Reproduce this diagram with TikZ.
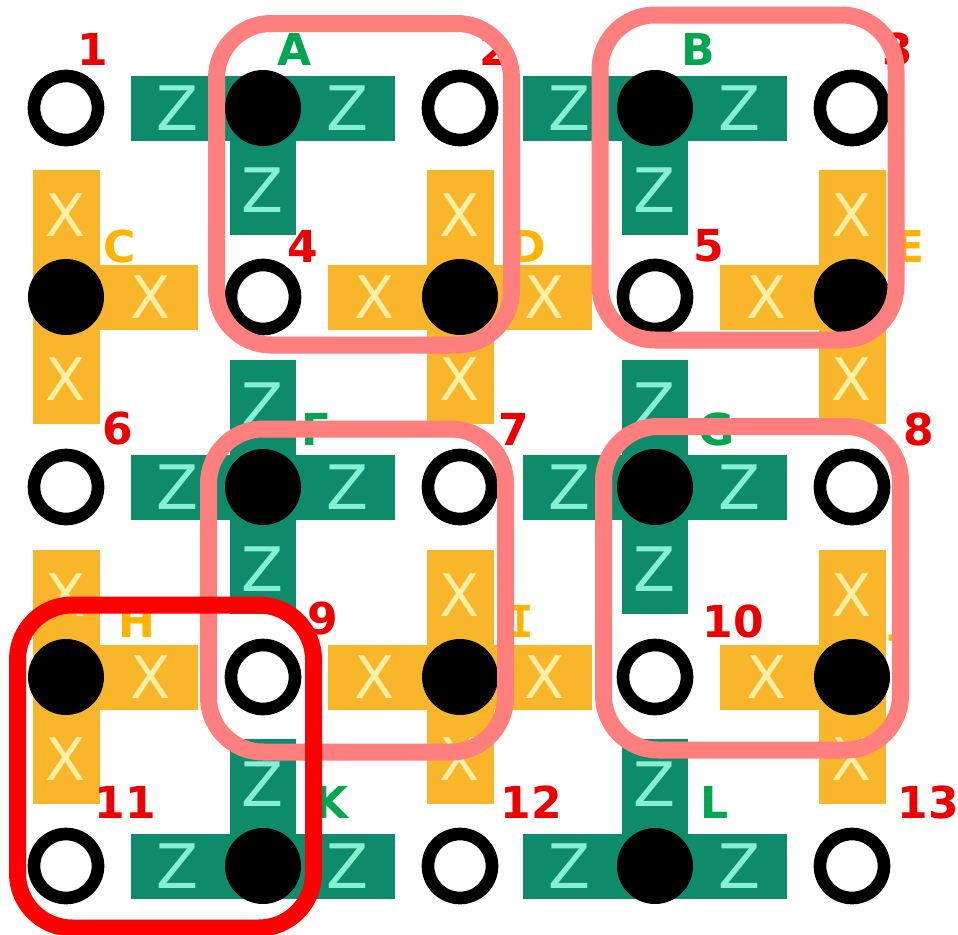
\documentclass[tikz,border=0pt]{standalone}
\usepackage{fontspec}
\setmainfont{DejaVu Sans}
\newfontfamily\serifI{DejaVu Sans Mono}
\definecolor{stabgreen}{HTML}{0E8B6B}
\definecolor{letmint}{HTML}{86F0D2}
\definecolor{stabyellow}{HTML}{F9B62A}
\definecolor{letpale}{HTML}{FFF0A6}
\definecolor{numred}{HTML}{EE0000}
\definecolor{lblgreen}{HTML}{00A650}
\definecolor{lblyellow}{HTML}{FFB400}
\definecolor{boxpink}{HTML}{FF7F7F}
\definecolor{boxred}{HTML}{FF0000}
\tikzset{
  qopen/.style={circle, draw=black, line width=9.5pt, fill=white, minimum size=48pt, inner sep=0pt},
  qanc/.style={circle, fill=black, minimum size=57pt, inner sep=0pt},
  numlbl/.style={text=numred, font=\fontsize{33}{33}\selectfont\bfseries, inner sep=0pt},
  zlbl/.style={text=lblgreen, font=\fontsize{33}{33}\selectfont\bfseries, inner sep=0pt},
  xlbl/.style={text=lblyellow, font=\fontsize{33}{33}\selectfont\bfseries, inner sep=0pt},
  zop/.style={text=letmint, font=\fontsize{46}{46}\selectfont, inner sep=0pt},
  xop/.style={text=letpale, font=\fontsize{44}{44}\selectfont, inner sep=0pt},
  greenarm/.style={fill=stabgreen},
  yellowarm/.style={fill=stabyellow},
  pinkbox/.style={draw=boxpink, line width=12.75pt, rounded corners=41pt},
  redbox/.style={draw=boxred, line width=12.75pt, rounded corners=41pt}
}
\begin{document}
\begin{tikzpicture}[x=0.75pt,y=-0.75pt]
\useasboundingbox (0,0) rectangle (958,935);
\fill[white] (0,0) rectangle (958,935);

% Z stabilizer arms
\foreach \px/\py/\dx/\dy in {
  263/108/-1/0, 263/108/1/0, 263/108/0/1,
  655/108/-1/0, 655/108/1/0, 655/108/0/1,
  263/487/-1/0, 263/487/1/0, 263/487/0/1, 263/487/0/-1,
  655/487/-1/0, 655/487/1/0, 655/487/0/1, 655/487/0/-1,
  263/866/-1/0, 263/866/1/0, 263/866/0/-1,
  655/866/-1/0, 655/866/1/0, 655/866/0/-1}{
  \pgfmathsetmacro\hx{33*abs(\dy)}
  \pgfmathsetmacro\hy{32.5*abs(\dx)}
  \path[greenarm] ({\px-\hx},{\py-\hy}) rectangle ({\px+132*\dx+\hx},{\py+127*\dy+\hy});
  \node[zop] (z\px\py\dx\dy) at ({\px+85*\dx},{\py+82*\dy}) {Z};
}

% X stabilizer arms
\foreach \px/\py/\dx/\dy in {
  66/297/1/0, 66/297/0/1, 66/297/0/-1,
  460/297/-1/0, 460/297/1/0, 460/297/0/1, 460/297/0/-1,
  852/297/-1/0, 852/297/0/1, 852/297/0/-1,
  66/677/1/0, 66/677/0/1, 66/677/0/-1,
  460/677/-1/0, 460/677/1/0, 460/677/0/1, 460/677/0/-1,
  852/677/-1/0, 852/677/0/1, 852/677/0/-1}{
  \pgfmathsetmacro\hx{33.5*abs(\dy)}
  \pgfmathsetmacro\hy{32.5*abs(\dx)}
  \path[yellowarm] ({\px-\hx},{\py-\hy}) rectangle ({\px+132*\dx+\hx},{\py+127*\dy+\hy});
  \node[xop] (x\px\py\dx\dy) at ({\px+85*\dx},{\py+82*\dy}) {X};
}

% data qubits (open circles)
\foreach \n/\px/\py in {1/66/108, 2/460/108, 3/852/108, 4/263/297, 5/655/297,
  6/66/487, 7/460/487, 8/852/487, 9/263/677, 10/655/677,
  11/66/866, 12/460/866, 13/852/866}{
  \node[qopen] (q\n) at (\px,\py) {};
}

% ancilla qubits (filled discs)
\foreach \n/\px/\py in {A/263/108, B/655/108, C/66/297, D/460/297, E/852/297,
  F/263/487, G/655/487, H/66/677, I/460/677, J/852/677, K/263/866, L/655/866}{
  \node[qanc] (s\n) at (\px,\py) {};
}

% number labels
\foreach \n/\px/\py in {1/93/49, 2/495/49, 3/898/49, 4/303/246, 5/709/246,
  6/118/429, 7/514/429, 8/919/429, 9/323/619, 10/733/621,
  11/125/802, 12/531/802, 13/928/802}{
  \node[numlbl] (n\n) at (\px,\py) {\n};
}

% stabilizer labels
\foreach \n/\px/\py in {A/295/49, B/698/49, F/317/429, G/717/429, K/332/802, L/715/802}{
  \node[zlbl] (l\n) at (\px,\py) {\n};
}
\foreach \n/\px/\py in {C/120/246, D/528/246, E/910/246, H/137/621, J/900/621}{
  \node[xlbl] (l\n) at (\px,\py) {\n};
}
\node[xlbl, font=\fontsize{33}{33}\selectfont\serifI\bfseries] (lI) at (521,621) {I};

% highlight boxes
\draw[pinkbox] (216.5,23.5) rectangle (511.5,345);
\draw[pinkbox] (600,15) rectangle (896,340);
\draw[pinkbox] (208.5,429) rectangle (505.5,752);
\draw[pinkbox] (603.5,426.5) rectangle (900.5,750);
\draw[redbox] (17.5,605) rectangle (313.5,928);
\end{tikzpicture}
\end{document}
